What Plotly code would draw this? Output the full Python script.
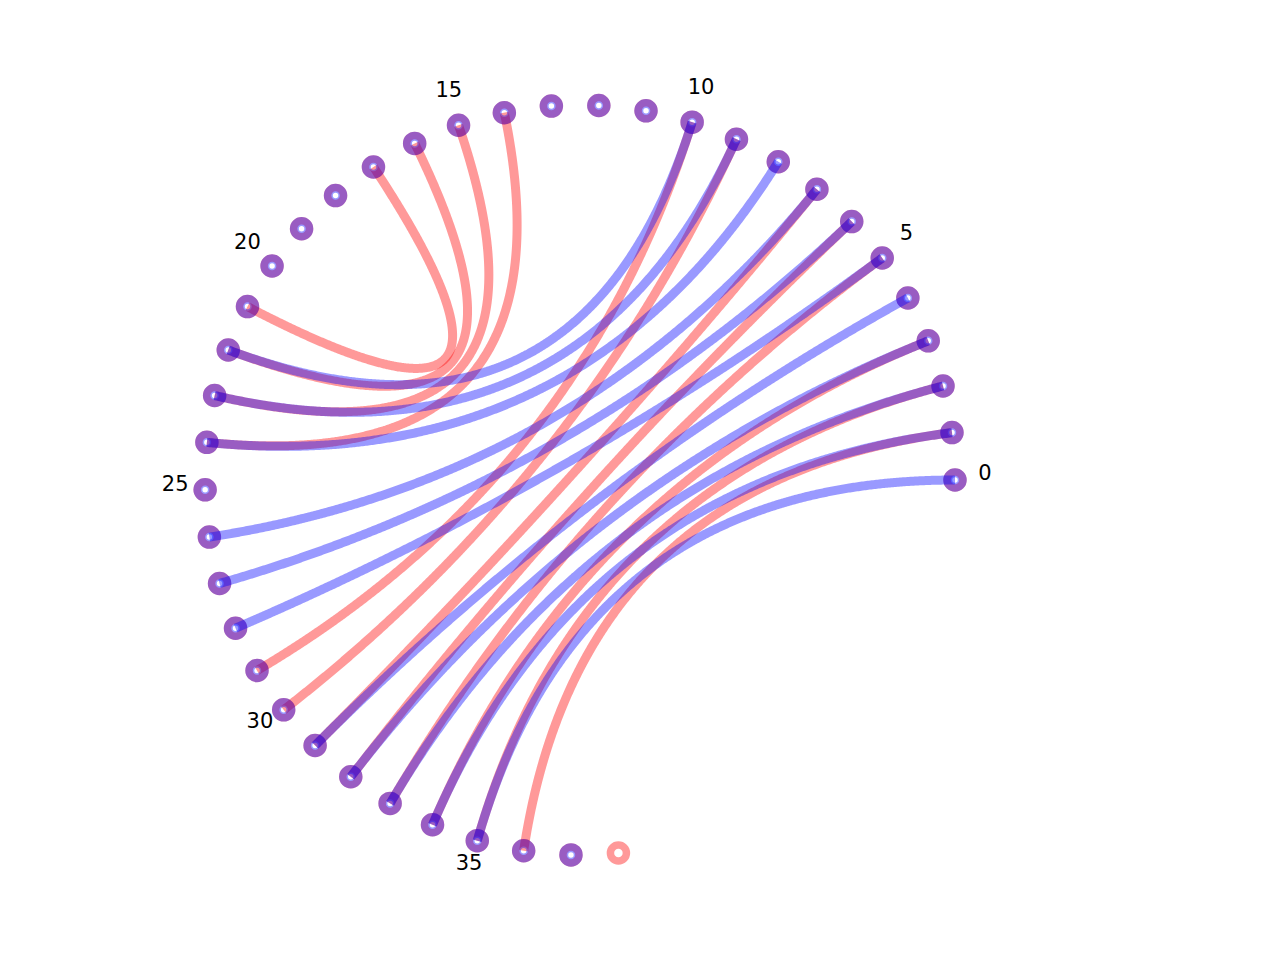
import numpy as np
import plotly.graph_objects as go

# ---- data ----
red_nodes = list(range(39))          # nodes 0..38
blue_nodes = list(range(38))         # nodes 0..37
red_edges = [(17, 21), (16, 22), (15, 23), (14, 24),
             (10, 29), (9, 30), (7, 31), (6, 32), (5, 33), (3, 34), (2, 35), (1, 36)]
blue_edges = [(10, 22), (9, 23), (8, 24), (7, 26), (6, 27), (5, 28),
              (4, 31), (3, 32), (2, 33), (1, 34), (0, 35)]
label_nodes = [0, 5, 10, 15, 20, 25, 30, 35]
label_texts = ["0", "5", "10", "15", "20", "25", "30", "35"]

# ---- layout geometry ----
STEP = np.deg2rad(7.26)
R = 1.0
RED = "rgba(255,0,0,0.4)"
BLUE = "rgba(0,0,255,0.4)"


def pos(i, r=R):
    a = i * STEP
    return r * np.cos(a), r * np.sin(a)


def bezier(i, j, n=240):
    p0 = np.array(pos(i))
    p2 = np.array(pos(j))
    c = np.array([0.0, 0.0])
    t = np.linspace(0, 1, n)[:, None]
    pts = (1 - t) ** 2 * p0 + 2 * t * (1 - t) * c + t ** 2 * p2
    return pts[:, 0], pts[:, 1]


def edge_trace(edges, color):
    xs, ys = [], []
    for i, j in edges:
        x, y = bezier(i, j)
        xs += list(x) + [None]
        ys += list(y) + [None]
    return go.Scatter(x=xs, y=ys, mode="lines", hoverinfo="skip",
                      line=dict(color=color, width=9, shape="spline",
                                smoothing=0.6, simplify=False),
                      showlegend=False)


def node_trace(nodes, color, size, width):
    xy = [pos(i) for i in nodes]
    return go.Scatter(x=[p[0] for p in xy], y=[p[1] for p in xy], mode="markers",
                      marker=dict(symbol="circle-open", size=size, color=color,
                                  line=dict(color=color, width=width)),
                      showlegend=False, hoverinfo="skip")


fig = go.Figure()
fig.add_trace(edge_trace(red_edges, RED))
fig.add_trace(node_trace(red_nodes, RED, 16, 7.5))
fig.add_trace(edge_trace(blue_edges, BLUE))
fig.add_trace(node_trace(blue_nodes, BLUE, 14.5, 9))

lab = [pos(i, 1.08) for i in label_nodes]
fig.add_trace(go.Scatter(x=[p[0] for p in lab], y=[p[1] + 0.014 for p in lab],
                         mode="text", text=label_texts, textposition="middle center",
                         textfont=dict(family="DejaVu Sans", size=21, color="black"),
                         showlegend=False, hoverinfo="skip"))

px = 375.0
cx, cy = 572.0, 472.0   # centre in figure pixels (page adds 8px body margin)
fig.update_layout(
    width=1280, height=960, autosize=False,
    margin=dict(l=0, r=0, t=0, b=0),
    paper_bgcolor="white", plot_bgcolor="white",
    xaxis=dict(range=[-cx / px, (1280 - cx) / px], visible=False, fixedrange=True),
    yaxis=dict(range=[-(960 - cy) / px, cy / px], visible=False, fixedrange=True),
)
fig.write_html("out.html")
